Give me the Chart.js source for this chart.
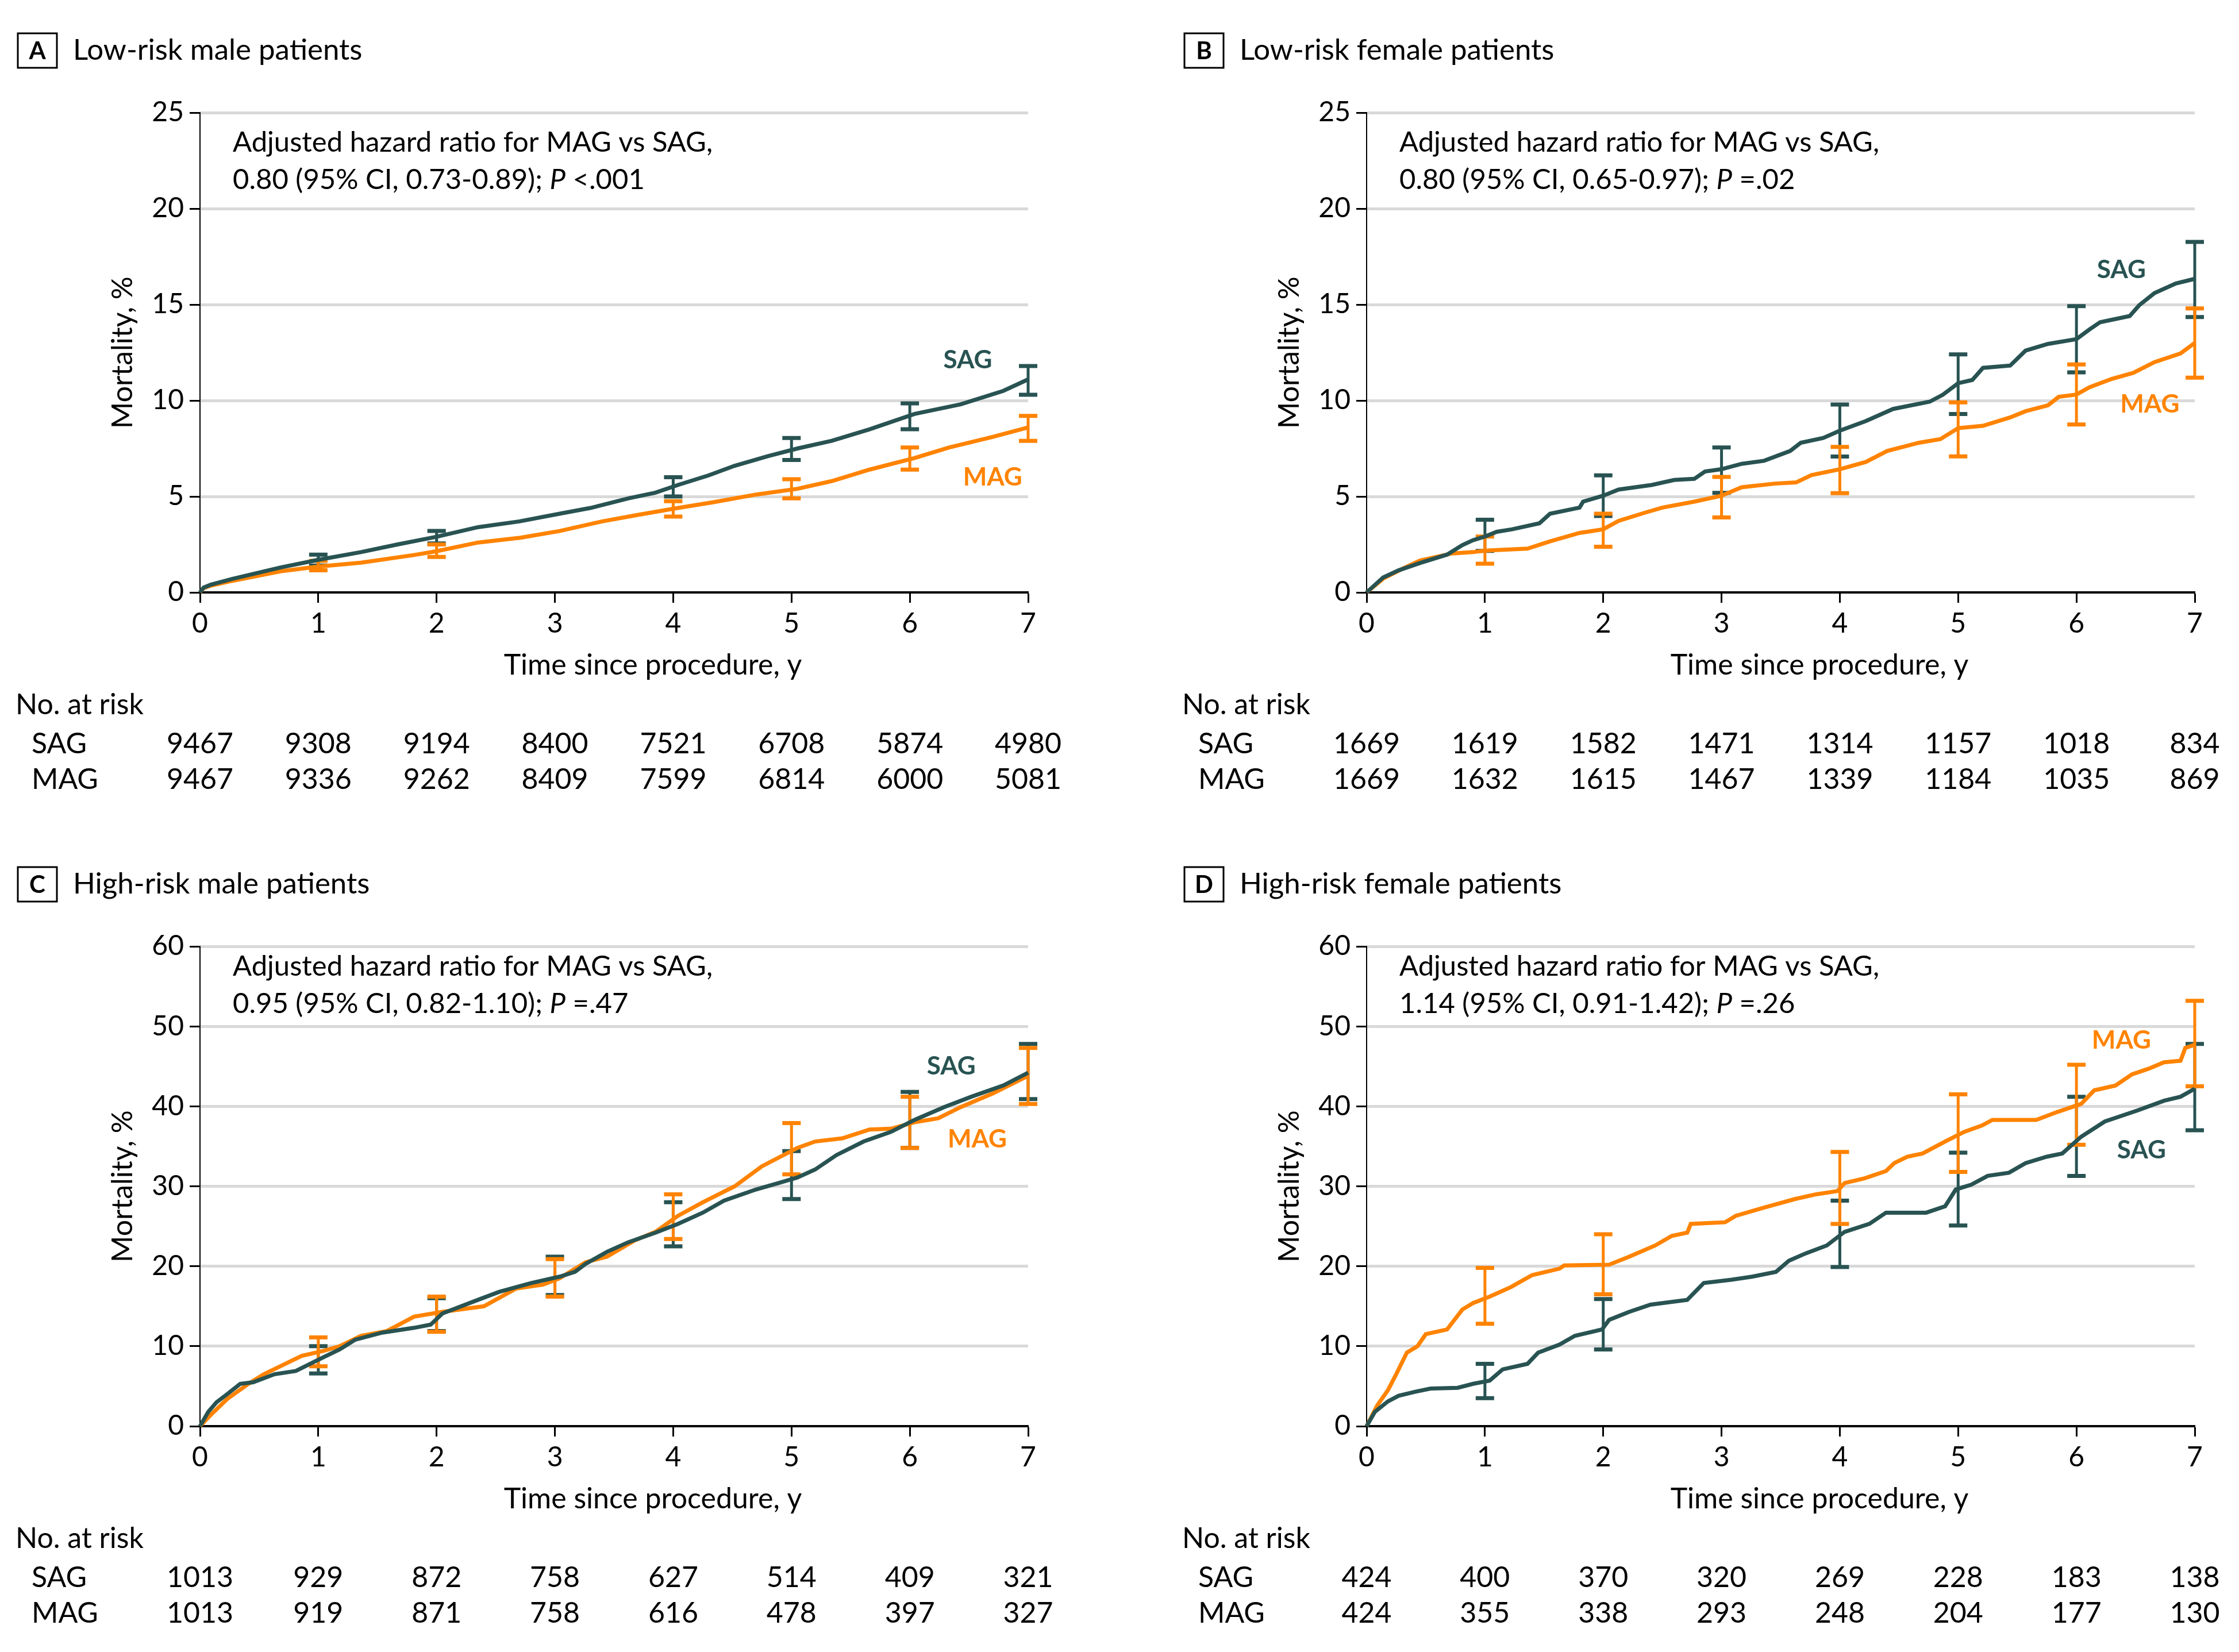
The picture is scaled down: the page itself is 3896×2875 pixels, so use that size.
<!DOCTYPE html>
<html>
<head>
<meta charset="utf-8">
<title>Mortality by risk group</title>
<script src="https://cdn.jsdelivr.net/npm/chart.js@4.4.1/dist/chart.umd.min.js"></script>
<style>
  html, body { margin: 0; padding: 0; background: #fff; }
  body { width: 3896px; height: 2875px; position: relative; overflow: hidden; }
  canvas { position: absolute; }
</style>
</head>
<body>
<canvas id="panelA"></canvas>
<canvas id="panelB"></canvas>
<canvas id="panelC"></canvas>
<canvas id="panelD"></canvas>
<script>
// ============================================================================
// DATA
// ============================================================================

const xTicks = [0, 1, 2, 3, 4, 5, 6, 7];
const riskYears = [0, 1, 2, 3, 4, 5, 6, 7];

// A - low-risk male patients
const aSagT = [0, 0.03, 0.09, 0.27, 0.68, 1.0, 1.36, 1.67, 2.0, 2.35, 2.7, 3.04, 3.3, 3.62, 3.85, 4.04, 4.3, 4.52, 4.8, 5.05, 5.34, 5.66, 6.04, 6.43, 6.79, 7.0];
const aSagV = [0, 0.25, 0.4, 0.7, 1.3, 1.7, 2.1, 2.5, 2.9, 3.4, 3.7, 4.1, 4.4, 4.9, 5.2, 5.6, 6.1, 6.6, 7.1, 7.5, 7.9, 8.5, 9.3, 9.8, 10.5, 11.1];
const aMagT = [0, 0.03, 0.09, 0.27, 0.68, 1.0, 1.36, 1.81, 2.0, 2.35, 2.71, 3.04, 3.4, 3.71, 4.04, 4.34, 4.7, 5.05, 5.34, 5.66, 6.04, 6.33, 6.7, 7.0];
const aMagV = [0, 0.22, 0.35, 0.6, 1.1, 1.35, 1.55, 1.95, 2.15, 2.6, 2.85, 3.2, 3.7, 4.05, 4.4, 4.7, 5.1, 5.4, 5.8, 6.4, 7.0, 7.55, 8.1, 8.6];
const aBarYears = [1, 2, 4, 5, 6, 7];
const aSagLo = [1.4, 2.55, 5.0, 6.9, 8.5, 10.3];
const aSagHi = [1.97, 3.2, 6.0, 8.05, 9.85, 11.8];
const aMagLo = [1.15, 1.85, 3.95, 4.9, 6.4, 7.9];
const aMagHi = [1.65, 2.5, 4.75, 5.9, 7.55, 9.2];
const aSagRisk = [9467, 9308, 9194, 8400, 7521, 6708, 5874, 4980];
const aMagRisk = [9467, 9336, 9262, 8409, 7599, 6814, 6000, 5081];

// B - low-risk female patients
const bSagT = [0, 0.14, 0.27, 0.45, 0.68, 0.81, 0.9, 1.0, 1.1, 1.23, 1.46, 1.55, 1.8, 1.83, 2.0, 2.13, 2.41, 2.6, 2.77, 2.86, 3.0, 3.17, 3.36, 3.58, 3.67, 3.86, 4.0, 4.22, 4.45, 4.76, 4.87, 5.0, 5.12, 5.21, 5.44, 5.57, 5.76, 6.0, 6.11, 6.2, 6.45, 6.53, 6.66, 6.84, 7.0];
const bSagV = [0, 0.78, 1.15, 1.53, 1.97, 2.47, 2.72, 2.91, 3.16, 3.29, 3.6, 4.1, 4.42, 4.73, 5.04, 5.36, 5.6, 5.86, 5.92, 6.3, 6.42, 6.7, 6.86, 7.37, 7.8, 8.05, 8.43, 8.93, 9.56, 9.94, 10.3, 10.9, 11.07, 11.7, 11.82, 12.6, 12.95, 13.2, 13.7, 14.08, 14.4, 14.96, 15.6, 16.1, 16.34];
const bMagT = [0, 0.14, 0.32, 0.45, 0.72, 0.9, 1.0, 1.36, 1.55, 1.8, 2.0, 2.13, 2.36, 2.5, 2.77, 3.0, 3.17, 3.45, 3.63, 3.76, 4.0, 4.22, 4.4, 4.67, 4.85, 5.0, 5.21, 5.44, 5.57, 5.76, 5.85, 6.0, 6.11, 6.3, 6.48, 6.66, 6.88, 7.0];
const bMagV = [0, 0.72, 1.28, 1.66, 2.03, 2.1, 2.18, 2.28, 2.66, 3.1, 3.29, 3.73, 4.17, 4.42, 4.73, 5.04, 5.48, 5.67, 5.73, 6.11, 6.42, 6.8, 7.37, 7.8, 7.99, 8.56, 8.68, 9.12, 9.44, 9.75, 10.19, 10.31, 10.69, 11.13, 11.44, 12.0, 12.45, 13.0];
const bBarYears = [1, 2, 3, 4, 5, 6, 7];
const bSagLo = [2.16, 3.98, 5.19, 7.08, 9.3, 11.47, 14.35];
const bSagHi = [3.79, 6.1, 7.55, 9.79, 12.4, 14.92, 18.26];
const bMagLo = [1.5, 2.38, 3.91, 5.17, 7.09, 8.75, 11.19];
const bMagHi = [2.91, 4.1, 6.02, 7.58, 9.9, 11.88, 14.8];
const bSagRisk = [1669, 1619, 1582, 1471, 1314, 1157, 1018, 834];
const bMagRisk = [1669, 1632, 1615, 1467, 1339, 1184, 1035, 869];

// C - high-risk male patients
const cSagT = [0, 0.07, 0.14, 0.23, 0.34, 0.45, 0.63, 0.81, 1.04, 1.18, 1.31, 1.54, 1.81, 1.95, 2.05, 2.35, 2.53, 2.8, 3.04, 3.17, 3.26, 3.44, 3.62, 3.85, 4.04, 4.25, 4.43, 4.7, 4.89, 5.05, 5.2, 5.38, 5.61, 5.84, 6.04, 6.29, 6.52, 6.79, 7.0];
const cSagV = [0, 1.8, 3.0, 4.0, 5.3, 5.5, 6.5, 6.9, 8.6, 9.6, 10.8, 11.7, 12.3, 12.7, 14.1, 15.8, 16.8, 17.9, 18.7, 19.3, 20.3, 21.8, 23.0, 24.2, 25.3, 26.7, 28.2, 29.6, 30.4, 31.1, 32.1, 33.9, 35.6, 36.8, 38.3, 39.9, 41.2, 42.6, 44.2];
const cMagT = [0, 0.09, 0.23, 0.41, 0.54, 0.68, 0.86, 1.04, 1.18, 1.36, 1.58, 1.81, 2.05, 2.4, 2.67, 2.9, 3.04, 3.26, 3.44, 3.67, 3.85, 4.04, 4.25, 4.52, 4.75, 5.05, 5.2, 5.43, 5.66, 5.84, 6.04, 6.24, 6.43, 6.7, 7.0];
const cMagV = [0, 1.4, 3.4, 5.3, 6.5, 7.5, 8.8, 9.4, 10.0, 11.3, 11.9, 13.7, 14.3, 15.0, 17.2, 17.7, 18.5, 20.5, 21.2, 23.2, 24.3, 26.3, 28.0, 30.0, 32.5, 34.8, 35.6, 36.0, 37.1, 37.2, 38.0, 38.5, 39.9, 41.6, 43.8];
const cBarYears = [1, 2, 3, 4, 5, 6, 7];
const cSagLo = [6.6, 11.9, 16.4, 22.5, 28.4, 34.8, 40.9];
const cSagHi = [10.0, 16.0, 21.2, 28.0, 34.4, 41.8, 47.8];
const cMagLo = [7.5, 11.8, 16.2, 23.4, 31.5, 34.8, 40.3];
const cMagHi = [11.1, 16.2, 20.9, 29.0, 37.9, 41.2, 47.3];
const cSagRisk = [1013, 929, 872, 758, 627, 514, 409, 321];
const cMagRisk = [1013, 919, 871, 758, 616, 478, 397, 327];

// D - high-risk female patients
const dSagT = [0, 0.07, 0.18, 0.27, 0.41, 0.54, 0.77, 0.9, 1.04, 1.15, 1.36, 1.45, 1.63, 1.76, 1.99, 2.05, 2.22, 2.4, 2.71, 2.85, 3.08, 3.26, 3.46, 3.57, 3.71, 3.89, 4.04, 4.25, 4.39, 4.73, 4.89, 4.98, 5.11, 5.25, 5.43, 5.57, 5.75, 5.88, 6.04, 6.24, 6.52, 6.74, 6.88, 7.0];
const dSagV = [0, 1.8, 3.1, 3.8, 4.3, 4.7, 4.8, 5.3, 5.7, 7.1, 7.8, 9.2, 10.2, 11.3, 12.1, 13.3, 14.3, 15.2, 15.8, 17.9, 18.3, 18.7, 19.3, 20.7, 21.6, 22.6, 24.3, 25.3, 26.7, 26.7, 27.5, 29.6, 30.2, 31.3, 31.7, 32.9, 33.7, 34.1, 36.2, 38.1, 39.5, 40.7, 41.2, 42.2];
const dMagT = [0, 0.09, 0.18, 0.25, 0.34, 0.43, 0.5, 0.68, 0.81, 0.9, 1.04, 1.22, 1.4, 1.63, 1.67, 2.05, 2.22, 2.44, 2.58, 2.71, 2.74, 3.03, 3.12, 3.35, 3.62, 3.8, 3.98, 4.04, 4.21, 4.39, 4.46, 4.57, 4.7, 4.89, 5.05, 5.2, 5.29, 5.66, 5.84, 6.04, 6.15, 6.33, 6.47, 6.61, 6.74, 6.88, 6.92, 7.0];
const dMagV = [0, 2.6, 4.5, 6.5, 9.2, 10.0, 11.5, 12.1, 14.6, 15.4, 16.2, 17.4, 18.9, 19.7, 20.1, 20.2, 21.2, 22.6, 23.8, 24.2, 25.3, 25.5, 26.3, 27.3, 28.4, 29.0, 29.4, 30.4, 31.0, 31.9, 32.9, 33.7, 34.1, 35.6, 36.8, 37.6, 38.3, 38.3, 39.3, 40.3, 42.0, 42.6, 44.0, 44.7, 45.5, 45.7, 47.3, 47.7];
const dBarYears = [1, 2, 4, 5, 6, 7];
const dSagLo = [3.5, 9.6, 19.9, 25.1, 31.3, 37.0];
const dSagHi = [7.8, 15.9, 28.2, 34.2, 41.2, 47.8];
const dMagLo = [12.8, 16.5, 25.3, 31.8, 35.2, 42.5];
const dMagHi = [19.8, 24.0, 34.3, 41.5, 45.2, 53.2];
const dSagRisk = [424, 400, 370, 320, 269, 228, 183, 138];
const dMagRisk = [424, 355, 338, 293, 248, 204, 177, 130];

// ============================================================================
// STYLE / LAYOUT
// ============================================================================

const FONT = 'Lato, "Liberation Sans", sans-serif';
const SAG_COLOR = '#285352';
const MAG_COLOR = '#ff8300';
const PLOT_LEFT = 348, PLOT_RIGHT = 1789, PLOT_TOP = 196, PLOT_BOTTOM = 1031;

const panels = [
    { id: 'panelA', left: 0, top: 0, width: 2030, height: 1451, letter: 'A', title: 'Low-risk male patients',
      yMax: 25, yStep: 5, noteY: 248, hr: '0.80 (95% CI, 0.73-0.89); ', p: ' <.001',
      sagT: aSagT, sagV: aSagV, magT: aMagT, magV: aMagV, barYears: aBarYears,
      sagLo: aSagLo, sagHi: aSagHi, magLo: aMagLo, magHi: aMagHi, sagRisk: aSagRisk, magRisk: aMagRisk,
      sagLabel: [6.49, 12.1], magLabel: [6.70, 6.0] },
    { id: 'panelB', left: 2030, top: 0, width: 1866, height: 1451, letter: 'B', title: 'Low-risk female patients',
      yMax: 25, yStep: 5, noteY: 248, hr: '0.80 (95% CI, 0.65-0.97); ', p: ' =.02',
      sagT: bSagT, sagV: bSagV, magT: bMagT, magV: bMagV, barYears: bBarYears,
      sagLo: bSagLo, sagHi: bSagHi, magLo: bMagLo, magHi: bMagHi, sagRisk: bSagRisk, magRisk: bMagRisk,
      sagLabel: [6.38, 16.8], magLabel: [6.62, 9.8] },
    { id: 'panelC', left: 0, top: 1451, width: 2030, height: 1424, letter: 'C', title: 'High-risk male patients',
      yMax: 60, yStep: 10, noteY: 231, hr: '0.95 (95% CI, 0.82-1.10); ', p: ' =.47',
      sagT: cSagT, sagV: cSagV, magT: cMagT, magV: cMagV, barYears: cBarYears,
      sagLo: cSagLo, sagHi: cSagHi, magLo: cMagLo, magHi: cMagHi, sagRisk: cSagRisk, magRisk: cMagRisk,
      sagLabel: [6.35, 45.0], magLabel: [6.57, 35.9] },
    { id: 'panelD', left: 2030, top: 1451, width: 1866, height: 1424, letter: 'D', title: 'High-risk female patients',
      yMax: 60, yStep: 10, noteY: 231, hr: '1.14 (95% CI, 0.91-1.42); ', p: ' =.26',
      sagT: dSagT, sagV: dSagV, magT: dMagT, magV: dMagV, barYears: dBarYears,
      sagLo: dSagLo, sagHi: dSagHi, magLo: dMagLo, magHi: dMagHi, sagRisk: dSagRisk, magRisk: dMagRisk,
      sagLabel: [6.55, 34.5], magLabel: [6.38, 48.2] }
];

const panelById = {};

// ============================================================================
// DRAWING HELPERS
// ============================================================================

function toPoints(t, v) {
    return t.map((x, i) => ({ x: x, y: v[i] }));
}

function drawErrorBars(chart, years, lo, hi, color) {
    const ctx = chart.ctx;
    const xs = chart.scales.x, ys = chart.scales.y;
    ctx.save();
    ctx.strokeStyle = color;
    years.forEach((yr, i) => {
        const px = xs.getPixelForValue(yr);
        const top = ys.getPixelForValue(hi[i]);
        const bot = ys.getPixelForValue(lo[i]);
        ctx.lineWidth = 5;
        ctx.beginPath();
        ctx.moveTo(px, top);
        ctx.lineTo(px, bot);
        ctx.stroke();
        ctx.lineWidth = 7;
        ctx.beginPath();
        ctx.moveTo(px - 16, top); ctx.lineTo(px + 16, top);
        ctx.moveTo(px - 16, bot); ctx.lineTo(px + 16, bot);
        ctx.stroke();
    });
    ctx.restore();
}

function text(ctx, str, x, y, font, color, align) {
    ctx.font = font;
    ctx.fillStyle = color || '#000';
    ctx.textAlign = align || 'left';
    ctx.textBaseline = 'middle';
    ctx.fillText(str, x, y);
}

const decorPlugin = {
    id: 'decor',
    beforeDatasetsDraw(chart) {
        const p = panelById[chart.canvas.id];
        drawErrorBars(chart, p.barYears, p.sagLo, p.sagHi, SAG_COLOR);
        drawErrorBars(chart, p.barYears, p.magLo, p.magHi, MAG_COLOR);
    },
    afterDraw(chart) {
        const p = panelById[chart.canvas.id];
        const ctx = chart.ctx;
        const xs = chart.scales.x, ys = chart.scales.y;
        const area = chart.chartArea;
        ctx.save();

        // panel letter + title
        ctx.strokeStyle = '#000';
        ctx.lineWidth = 3;
        ctx.strokeRect(31, 58, 68, 60);
        text(ctx, p.letter, 65, 89, 'bold 42px ' + FONT, '#000', 'center');
        text(ctx, p.title, 127, 88, '51px ' + FONT);

        // hazard ratio note
        const nx = 405;
        const noteFont = '49px ' + FONT;
        text(ctx, 'Adjusted hazard ratio for MAG vs SAG,', nx, p.noteY, noteFont);
        text(ctx, p.hr, nx, p.noteY + 65, noteFont);
        let w = ctx.measureText(p.hr).width;
        text(ctx, 'P', nx + w, p.noteY + 65, 'italic ' + noteFont);
        w += ctx.measureText('P').width;
        text(ctx, p.p, nx + w, p.noteY + 65, noteFont);

        // curve labels
        text(ctx, 'SAG', xs.getPixelForValue(p.sagLabel[0]), ys.getPixelForValue(p.sagLabel[1]), 'bold 44px ' + FONT, SAG_COLOR, 'center');
        text(ctx, 'MAG', xs.getPixelForValue(p.magLabel[0]), ys.getPixelForValue(p.magLabel[1]), 'bold 44px ' + FONT, MAG_COLOR, 'center');

        // axis titles
        text(ctx, 'Time since procedure, y', area.left + 788, 1158, '50px ' + FONT, '#000', 'center');
        ctx.save();
        ctx.translate(214, (area.top + area.bottom) / 2);
        ctx.rotate(-Math.PI / 2);
        text(ctx, 'Mortality, %', 0, 0, '50px ' + FONT, '#000', 'center');
        ctx.restore();

        // number at risk table
        text(ctx, 'No. at risk', 27, 1227, '50px ' + FONT);
        text(ctx, 'SAG', 55, 1295, '50px ' + FONT);
        text(ctx, 'MAG', 55, 1357, '50px ' + FONT);
        riskYears.forEach((yr, i) => {
            const px = xs.getPixelForValue(yr);
            text(ctx, String(p.sagRisk[i]), px, 1295, '50px ' + FONT, '#000', 'center');
            text(ctx, String(p.magRisk[i]), px, 1357, '50px ' + FONT, '#000', 'center');
        });
        ctx.restore();
    }
};

// ============================================================================
// CHARTS
// ============================================================================

function initPanel(p) {
    panelById[p.id] = p;
    const canvas = document.getElementById(p.id);
    canvas.width = p.width;
    canvas.height = p.height;
    canvas.style.left = p.left + 'px';
    canvas.style.top = p.top + 'px';

    const yTicks = [];
    for (let v = 0; v <= p.yMax; v += p.yStep) yTicks.push(v);

    new Chart(canvas, {
        type: 'line',
        data: {
            datasets: [
                { label: 'SAG', data: toPoints(p.sagT, p.sagV), borderColor: SAG_COLOR, borderWidth: 7,
                  pointRadius: 0, tension: 0, fill: false, clip: false },
                { label: 'MAG', data: toPoints(p.magT, p.magV), borderColor: MAG_COLOR, borderWidth: 7,
                  pointRadius: 0, tension: 0, fill: false, clip: false }
            ]
        },
        options: {
            responsive: false,
            animation: false,
            devicePixelRatio: 1,
            layout: {
                padding: { left: 0, top: PLOT_TOP, right: p.width - PLOT_RIGHT, bottom: p.height - PLOT_BOTTOM - 100 }
            },
            plugins: {
                legend: { display: false },
                tooltip: { enabled: false }
            },
            scales: {
                x: {
                    type: 'linear',
                    min: 0,
                    max: 7,
                    afterFit: function(scale) { scale.height = 100; },
                    afterBuildTicks: function(scale) { scale.ticks = xTicks.map(v => ({ value: v })); },
                    ticks: { font: { family: FONT, size: 48 }, color: '#000', padding: 8, maxRotation: 0 },
                    grid: { drawOnChartArea: false, drawTicks: true, tickLength: 18, tickWidth: 3, tickColor: '#000' },
                    border: { display: true, color: '#000', width: 4 }
                },
                y: {
                    type: 'linear',
                    min: 0,
                    max: p.yMax,
                    afterFit: function(scale) { scale.width = PLOT_LEFT; },
                    afterBuildTicks: function(scale) { scale.ticks = yTicks.map(v => ({ value: v })); },
                    ticks: { font: { family: FONT, size: 48 }, color: '#000', padding: 10 },
                    grid: {
                        color: ctx => (ctx.tick && ctx.tick.value === 0) ? 'rgba(0,0,0,0)' : '#d9d9d9',
                        lineWidth: 5,
                        tickLength: 18,
                        tickWidth: 3,
                        tickColor: '#000'
                    },
                    border: { display: true, color: '#000', width: 2 }
                }
            }
        },
        plugins: [decorPlugin]
    });
}

document.addEventListener('DOMContentLoaded', function() {
    panels.forEach(initPanel);
});
</script>
</body>
</html>
